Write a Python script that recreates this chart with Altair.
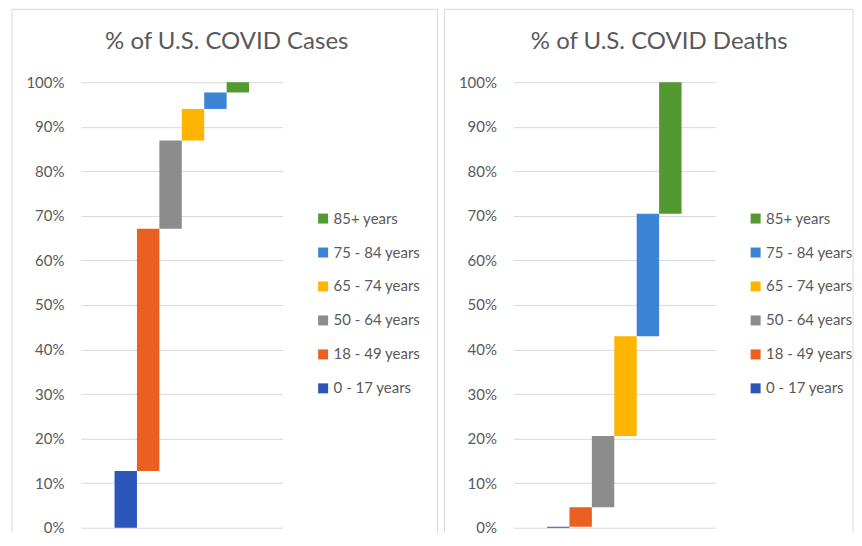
import altair as alt
import pandas as pd

ages = ["0 - 17 years", "18 - 49 years", "50 - 64 years", "65 - 74 years", "75 - 84 years", "85+ years"]
colors = ["#2B56BA", "#EA6020", "#8C8C8C", "#FFB400", "#3C84D6", "#52992F"]
cases_pct = [12.7, 54.4, 19.8, 7.1, 3.7, 2.3]
deaths_pct = [0.2, 4.4, 16.0, 22.4, 27.5, 29.5]
titles = ["% of U.S. COVID Cases", "% of U.S. COVID Deaths"]
y_ticks = [0, 0.1, 0.2, 0.3, 0.4, 0.5, 0.6, 0.7, 0.8, 0.9, 1.0]

FONT = "Lato"
TEXT = "#595959"
GRID = "#D9D9D9"
W, H = 202, 446


def waterfall_table(vals):
    df = pd.DataFrame({"age": ages, "pct": vals})
    df["end"] = df["pct"].cumsum() / 100.0
    df["start"] = df["end"] - df["pct"] / 100.0
    df["x0"] = df.index + 1.5
    df["x1"] = df.index + 2.5
    return df


def panel(vals, title, right_edge):
    df = waterfall_table(vals)
    bars = alt.Chart(df).mark_bar().encode(
        x=alt.X("x0:Q", scale=alt.Scale(domain=[0, 9], nice=False, zero=False), axis=None),
        x2="x1:Q",
        y=alt.Y("start:Q", scale=alt.Scale(domain=[0, 1], nice=False),
                axis=alt.Axis(values=y_ticks, format=".0%", title=None, domain=False, ticks=False,
                              labelPadding=17, labelFont=FONT, labelFontSize=15, labelColor=TEXT,
                              gridColor=GRID, gridWidth=1)),
        y2="end:Q",
        color=alt.Color("age:N",
                        scale=alt.Scale(domain=list(reversed(ages)), range=list(reversed(colors))),
                        legend=alt.Legend(title=None, orient="none", legendX=235, legendY=129,
                                          symbolType="square", symbolSize=100, symbolStrokeWidth=0,
                                          labelFont=FONT, labelFontSize=15, labelColor=TEXT,
                                          labelOffset=3, rowPadding=18)),
    )
    ttl = alt.Chart(pd.DataFrame({"t": [title]})).mark_text(
        font=FONT, fontSize=24, color=TEXT, align="center", baseline="alphabetic"
    ).encode(text="t:N", x=alt.value(146), y=alt.value(-33))
    one = pd.DataFrame({"a": [0]})
    left_rule = alt.Chart(one).mark_rule(color=GRID, strokeWidth=1).encode(
        x=alt.value(-69), y=alt.value(-73), y2=alt.value(451))
    top_rule = alt.Chart(one).mark_rule(color=GRID, strokeWidth=1).encode(
        x=alt.value(-69), x2=alt.value(right_edge), y=alt.value(-73))
    right_rule = alt.Chart(one).mark_rule(color=GRID, strokeWidth=1).encode(
        x=alt.value(right_edge), y=alt.value(-73), y2=alt.value(451))
    return alt.layer(left_rule, top_rule, right_rule, bars, ttl).properties(width=W, height=H)


chart = alt.hconcat(
    panel(cases_pct, titles[0], 357),
    panel(deaths_pct, titles[1], 340),
    spacing=5,
).resolve_scale(color="independent").resolve_legend(color="independent").properties(
    padding={"left": 3, "top": 0, "right": 0, "bottom": 0}
).configure_view(strokeWidth=0)

chart.save("out.html", embed_options={"renderer": "svg", "actions": False})
